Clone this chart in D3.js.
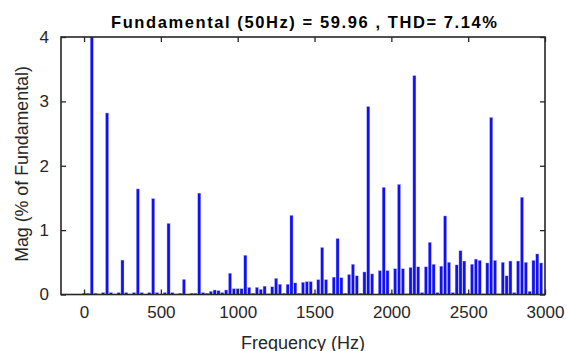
<!DOCTYPE html>
<html>
<head>
<meta charset="utf-8">
<script src="https://cdn.jsdelivr.net/npm/d3@7"></script>
<style>
  html, body { margin: 0; padding: 0; background: #fff; }
  svg { display: block; }
  text { font-family: "Liberation Sans", Arial, Helvetica, sans-serif; }
</style>
</head>
<body>
<svg id="chart" width="567" height="351"></svg>
<script>
// FFT spectrum: magnitude of each 25 Hz bin, as % of the fundamental
const binStep = 25;
const magnitudes = [
  0.02, 0.02, 100, 0.02, 0, 0.03, 2.82, 0.03, 0, 0.03,          // 0 - 225 Hz
  0.535, 0.03, 0, 0.03, 1.64, 0.03, 0, 0.03, 1.49, 0.03,        // 250 - 475
  0, 0.03, 1.105, 0.03, 0, 0.02, 0.235, 0, 0.02, 0.02,          // 500 - 725
  1.575, 0.03, 0.02, 0.05, 0.07, 0.06, 0.03, 0.07, 0.33, 0.09,  // 750 - 975
  0.09, 0.09, 0.61, 0.11, 0.02, 0.11, 0.08, 0.13, 0.01, 0.12,   // 1000 - 1225
  0.25, 0.16, 0.02, 0.16, 1.23, 0.18, 0.02, 0.19, 0.2, 0.2,     // 1250 - 1475
  0.02, 0.23, 0.73, 0.23, 0.02, 0.27, 0.87, 0.26, 0.02, 0.31,   // 1500 - 1725
  0.47, 0.29, 0.02, 0.35, 2.92, 0.32, 0, 0.37, 1.665, 0.37,     // 1750 - 1975
  0.02, 0.4, 1.71, 0.4, 0.01, 0.42, 3.4, 0.43, 0.03, 0.43,      // 2000 - 2225
  0.81, 0.47, 0.03, 0.44, 1.22, 0.5, 0.03, 0.46, 0.68, 0.52,    // 2250 - 2475
  0.02, 0.47, 0.55, 0.53, 0.01, 0.49, 2.75, 0.53, 0.01, 0.5,    // 2500 - 2725
  0.29, 0.52, 0.03, 0.52, 1.51, 0.5, 0.05, 0.53, 0.63, 0.49,    // 2750 - 2975
  0.01                                                          // 3000
];
const frequencies = magnitudes.map((_, i) => i * binStep);

const xTicks = [0, 500, 1000, 1500, 2000, 2500, 3000];
const yTicks = [0, 1, 2, 3, 4];
const titleText = "Fundamental (50Hz) = 59.96 , THD= 7.14%";
const xLabel = "Frequency (Hz)";
const yLabel = "Mag (% of Fundamental)";

const svg = d3.select("#chart");
const plot = { left: 61, right: 545, top: 37, bottom: 294.5 };

const x = d3.scaleLinear().domain([-150, 3000]).range([plot.left, plot.right]);
const y = d3.scaleLinear().domain([0, 4]).range([plot.bottom, plot.top]);
const axisColor = "#262626";

svg.append("defs").append("clipPath").attr("id", "plotClip")
  .append("rect")
  .attr("x", plot.left).attr("y", plot.top)
  .attr("width", plot.right - plot.left).attr("height", plot.bottom - plot.top);

// bars: 80% of the bin width, centred on each bin frequency
const halfBar = binStep * 0.4;
const data = frequencies.map((f, i) => ({ f, v: magnitudes[i] }));
svg.append("g").attr("clip-path", "url(#plotClip)")
  .selectAll("rect").data(data).join("rect")
  .attr("x", d => x(d.f - halfBar))
  .attr("width", d => x(d.f + halfBar) - x(d.f - halfBar))
  .attr("y", d => y(d.v))
  .attr("height", d => y(0) - y(d.v))
  .attr("fill", "#1010f2")
  .attr("stroke", "#b8b8ff")
  .attr("stroke-width", 0.4);

// axes with inward ticks on all four sides
const tickLen = 5;
const axisStyle = g => {
  g.select(".domain").remove();
  g.selectAll(".tick line").attr("stroke", axisColor).attr("stroke-width", 1.3);
  g.selectAll(".tick text").attr("fill", axisColor).style("font-size", "17px");
};

svg.append("g").attr("transform", `translate(0,${plot.bottom})`)
  .call(d3.axisBottom(x).tickValues(xTicks).tickFormat(d3.format("d"))
    .tickSizeInner(-tickLen).tickSizeOuter(0).tickPadding(11))
  .call(axisStyle);
svg.append("g").attr("transform", `translate(0,${plot.top})`)
  .call(d3.axisTop(x).tickValues(xTicks).tickFormat("")
    .tickSizeInner(-tickLen).tickSizeOuter(0))
  .call(axisStyle);
svg.append("g").attr("transform", `translate(${plot.left},0)`)
  .call(d3.axisLeft(y).tickValues(yTicks).tickFormat(d3.format("d"))
    .tickSizeInner(-tickLen).tickSizeOuter(0).tickPadding(12))
  .call(axisStyle);
svg.append("g").attr("transform", `translate(${plot.right},0)`)
  .call(d3.axisRight(y).tickValues(yTicks).tickFormat("")
    .tickSizeInner(-tickLen).tickSizeOuter(0))
  .call(axisStyle);

// box
svg.append("rect")
  .attr("x", plot.left).attr("y", plot.top)
  .attr("width", plot.right - plot.left).attr("height", plot.bottom - plot.top)
  .attr("fill", "none").attr("stroke", axisColor).attr("stroke-width", 1.6);

// title and axis labels
svg.append("text")
  .attr("x", 304).attr("y", 28)
  .attr("text-anchor", "middle")
  .attr("textLength", 386).attr("lengthAdjust", "spacing")
  .style("font-size", "16.5px").style("font-weight", "bold").attr("fill", "#000")
  .text(titleText);

svg.append("text")
  .attr("x", (plot.left + plot.right) / 2).attr("y", 349)
  .attr("text-anchor", "middle")
  .style("font-size", "18px").attr("fill", axisColor)
  .text(xLabel);

svg.append("text")
  .attr("transform", `translate(28,164) rotate(-90)`)
  .attr("text-anchor", "middle")
  .style("font-size", "17.8px").attr("fill", axisColor)
  .text(yLabel);
</script>
</body>
</html>
